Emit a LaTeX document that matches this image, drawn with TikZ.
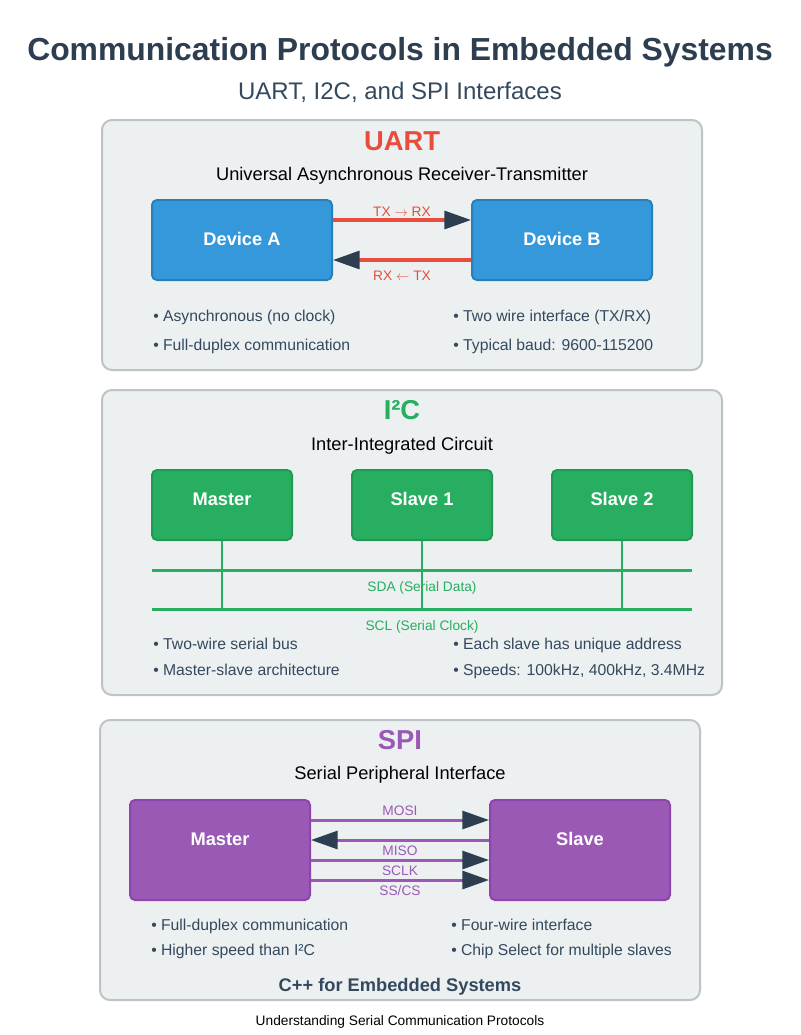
\documentclass[tikz,border=0pt]{standalone}
\usepackage{fontspec}
\setmainfont{Liberation Sans}
\usetikzlibrary{arrows.meta,calc}
\definecolor{dark}{HTML}{2C3E50}
\definecolor{mid}{HTML}{34495E}
\definecolor{panelfill}{HTML}{ECF0F1}
\definecolor{panelstroke}{HTML}{BDC3C7}
\definecolor{uartred}{HTML}{E74C3C}
\definecolor{uartblue}{HTML}{3498DB}
\definecolor{uartbluedk}{HTML}{2980B9}
\definecolor{i2cgreen}{HTML}{27AE60}
\definecolor{i2cgreendk}{HTML}{229954}
\definecolor{spipurple}{HTML}{9B59B6}
\definecolor{spipurpledk}{HTML}{8E44AD}
\begin{document}
\begin{tikzpicture}[x=0.75pt,y=-0.75pt,
  txt/.style={anchor=base,inner sep=0pt},
  bullet/.style={anchor=base west,inner sep=0pt,text=mid,font=\fontsize{11.8pt}{14pt}\selectfont},
  ptitle/.style={txt,font=\fontsize{20.5pt}{24pt}\selectfont\bfseries},
  psub/.style={txt,text=black,font=\fontsize{13.7pt}{16pt}\selectfont},
  small/.style={txt,font=\fontsize{10.3pt}{12pt}\selectfont},
  panel/.style={draw=panelstroke,line width=1.5pt,fill=panelfill,rounded corners=7.5pt},
  boxbase/.style={line width=1.5pt,rounded corners=3.75pt,inner sep=0pt,text=white,
     font=\fontsize{13.7pt}{16pt}\selectfont\bfseries},
  ubox/.style={boxbase,draw=uartbluedk,fill=uartblue,minimum width=135pt,minimum height=60pt,
     text height=7.5pt,text depth=0pt},
  ibox/.style={boxbase,draw=i2cgreendk,fill=i2cgreen,minimum width=105pt,minimum height=52.5pt,
     text height=8pt,text depth=8pt},
  sbox/.style={boxbase,draw=spipurpledk,fill=spipurple,minimum width=135pt,minimum height=75pt,
     text height=5pt,text depth=12.5pt},
  tip/.style={-{Triangle[length=20pt,width=13.5pt,color=dark]}},
  uwire/.style={tip,draw=uartred,line width=2.5pt},
  swire/.style={tip,draw=spipurple,line width=2.25pt},
  bus/.style={draw=i2cgreen,line width=2.25pt},
  drop/.style={draw=i2cgreen,line width=1.5pt}
]
\useasboundingbox (0,0) rectangle (800,1035);
\fill[white] (0,0) rectangle (800,1035);

% Titles
\node[txt,text=dark,font=\fontsize{23.9pt}{28pt}\selectfont\bfseries] (title) at (400,60)
  {Communication Protocols in Embedded Systems};
\node[txt,text=mid,font=\fontsize{18pt}{21pt}\selectfont] (subtitle) at (400,99)
  {UART, I2C, and SPI Interfaces};

% ---------- UART ----------
\draw[panel] (102,120) rectangle (702,370);
\node[ptitle,text=uartred] (uarttitle) at (402,150) {UART};
\node[psub] (uartsub) at (402,180) {Universal Asynchronous Receiver-Transmitter};
\node[ubox] (devA) at (242,240) {Device A};
\node[ubox] (devB) at (562,240) {Device B};
\draw[uwire] ($(devA.east)+(0,-20)$) -- ($(devB.west)+(0,-20)$);
\draw[uwire] ($(devB.west)+(0,20)$) -- ($(devA.east)+(0,20)$);
\node[small,text=uartred] (txrx) at (402,216) {TX \(\rightarrow\) RX};
\node[small,text=uartred] (rxtx) at (402,280.5) {RX \(\leftarrow\) TX};
\node[bullet] (u1) at (153,321) {• Asynchronous (no clock)};
\node[bullet] (u2) at (153,350) {• Full-duplex communication};
\node[bullet] (u3) at (453,321) {• Two wire interface (TX/RX)};
\node[bullet] (u4) at (453,350) {• Typical baud: 9600-115200};

% ---------- I2C ----------
\draw[panel] (102,390) rectangle (722,695);
\node[ptitle,text=i2cgreen] (i2ctitle) at (402,419) {I²C};
\node[psub] (i2csub) at (402,450) {Inter-Integrated Circuit};
\node[ibox] (master) at (222,505) {Master};
\node[ibox] (slave1) at (422,505) {Slave 1};
\node[ibox] (slave2) at (622,505) {Slave 2};
\coordinate (sdaL) at (152,570);
\coordinate (sdaR) at (692,570);
\coordinate (sclL) at (152,609);
\coordinate (sclR) at (692,609);
\node[small,text=i2cgreen] (sdalbl) at (422,591) {SDA (Serial Data)};
\node[small,text=i2cgreen] (scllbl) at (422,630) {SCL (Serial Clock)};
\draw[bus] (sdaL) -- (sdaR);
\draw[bus] (sclL) -- (sclR);
\draw[drop] (master.south) -- (master.south |- sclL);
\draw[drop] (slave1.south) -- (slave1.south |- sclL);
\draw[drop] (slave2.south) -- (slave2.south |- sclL);
\node[bullet] (i1) at (153,649) {• Two-wire serial bus};
\node[bullet] (i2) at (153,675) {• Master-slave architecture};
\node[bullet] (i3) at (453,649) {• Each slave has unique address};
\node[bullet] (i4) at (453,675) {• Speeds: 100kHz, 400kHz, 3.4MHz};

% ---------- SPI ----------
\draw[panel] (100,720) rectangle (700,1000);
\node[ptitle,text=spipurple] (spititle) at (400,749) {SPI};
\node[psub] (spisub) at (400,779) {Serial Peripheral Interface};
\node[sbox] (smaster) at (220,850) {Master};
\node[sbox] (sslave) at (580,850) {Slave};
\draw[swire] ($(smaster.east)+(0,-30)$) -- ($(sslave.west)+(0,-30)$);
\draw[swire] ($(sslave.west)+(0,-10)$) -- ($(smaster.east)+(0,-10)$);
\draw[swire] ($(smaster.east)+(0,10)$) -- ($(sslave.west)+(0,10)$);
\draw[swire] ($(smaster.east)+(0,30)$) -- ($(sslave.west)+(0,30)$);
\node[small,text=spipurple] (mosi) at (400,815) {MOSI};
\node[small,text=spipurple] (miso) at (400,855) {MISO};
\node[small,text=spipurple] (sclk) at (400,875) {SCLK};
\node[small,text=spipurple] (sscs) at (400,895) {SS/CS};
\node[bullet] (s1) at (151,930) {• Full-duplex communication};
\node[bullet] (s2) at (151,955) {• Higher speed than I²C};
\node[bullet] (s3) at (451,930) {• Four-wire interface};
\node[bullet] (s4) at (451,955) {• Chip Select for multiple slaves};
\node[txt,text=mid,font=\fontsize{13.7pt}{16pt}\selectfont\bfseries] (cpp) at (400,991)
  {C++ for Embedded Systems};

% footer
\node[small,text=black] (footer) at (400,1025) {Understanding Serial Communication Protocols};
\end{tikzpicture}
\end{document}
